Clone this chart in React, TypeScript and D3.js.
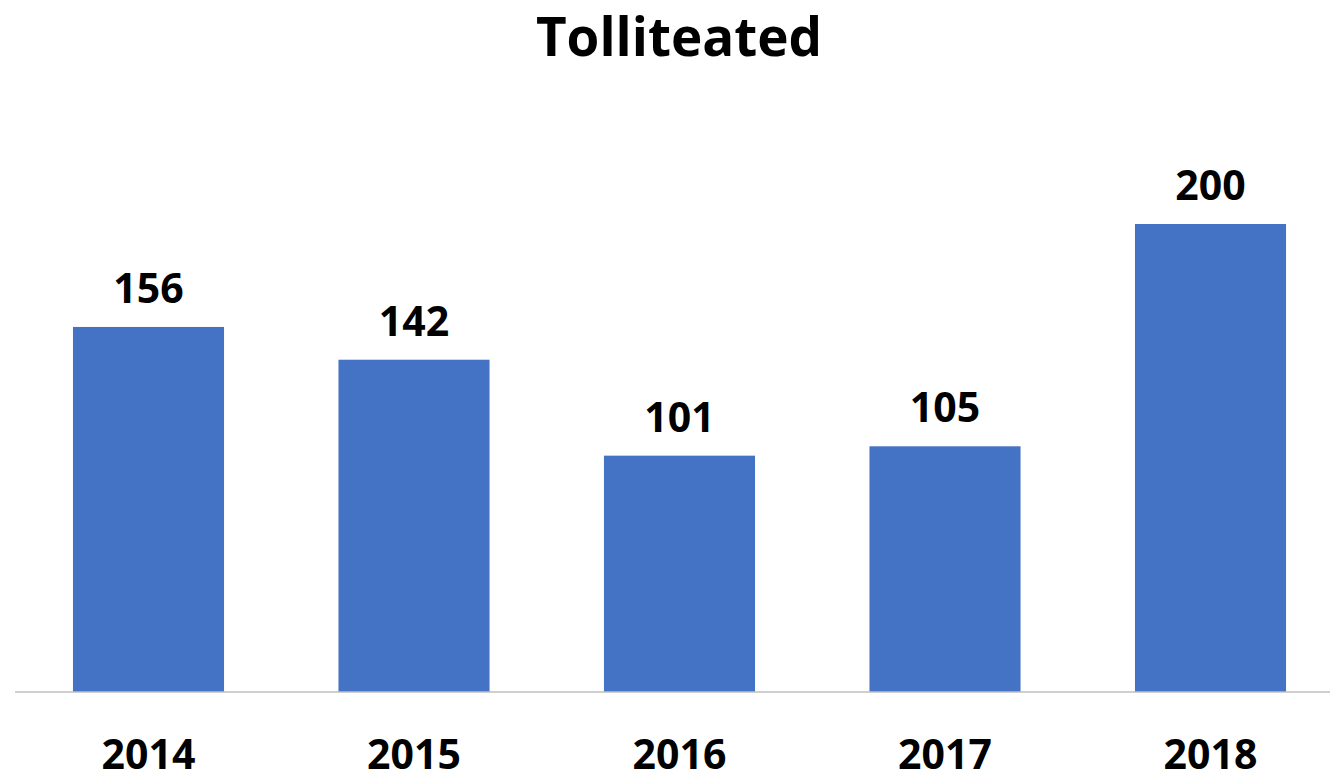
import React from "react";
import * as d3 from "d3";

const categories = ["2014", "2015", "2016", "2017", "2018"];
const values = [156, 142, 101, 105, 200];
const title = "Tolliteated";

const W = 1330;
const H = 774;

export default function App() {
  const x = d3.scaleBand<string>().domain(categories).range([15.75, 1343.25]).paddingInner(0.431).paddingOuter(0.2155);
  const y = d3.scaleLinear().domain([0, 200]).range([692, 224]);
  const font = "'Open Sans', 'Liberation Sans', sans-serif";
  return (
    <svg width={W} height={H} style={{ position: "absolute", left: 0, top: 0 }}>
      <rect x={0} y={0} width={W} height={H} fill="#fff" />
      <text x={679} y={56} textAnchor="middle" fontFamily={font} fontWeight={700} fontSize={53} fill="#000">
        {title}
      </text>
      {categories.map((c, i) => (
        <g key={c}>
          <rect x={x(c)} y={y(values[i])} width={x.bandwidth()} height={y(0) - y(values[i])} fill="#4472C4" />
          <text x={(x(c) ?? 0) + x.bandwidth() / 2} y={y(values[i]) - 24} textAnchor="middle" fontFamily={font} fontWeight={700} fontSize={41} fill="#000">
            {values[i]}
          </text>
          <text x={(x(c) ?? 0) + x.bandwidth() / 2} y={769} textAnchor="middle" fontFamily={font} fontWeight={700} fontSize={41} fill="#000">
            {c}
          </text>
        </g>
      ))}
      <line x1={15} x2={W} y1={692} y2={692} stroke="#BFBFBF" strokeWidth={1.5} />
    </svg>
  );
}
